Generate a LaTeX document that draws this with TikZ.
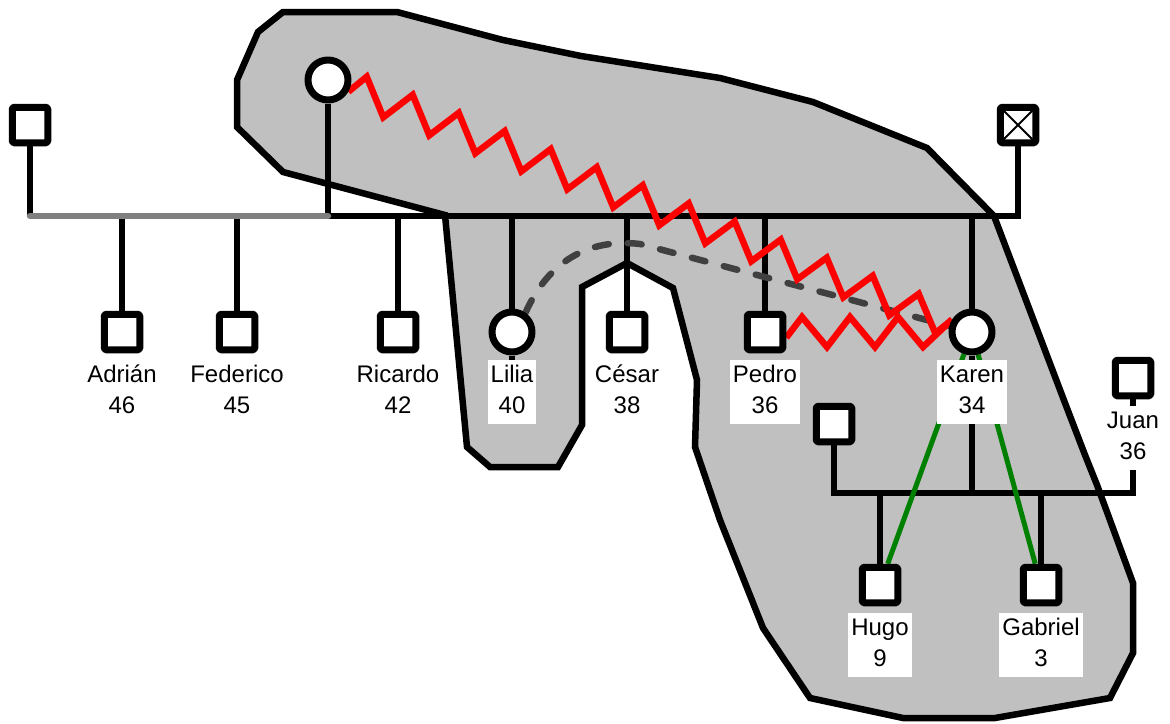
\documentclass[tikz,border=0pt]{standalone}
\usepackage{fontspec}
\setmainfont{Liberation Sans}
\definecolor{regionfill}{RGB}{192,192,192}
\definecolor{dgray}{RGB}{64,64,64}
\definecolor{mgray}{RGB}{128,128,128}
\definecolor{bondgreen}{RGB}{0,128,0}
\pgfdeclarelayer{bg}
\pgfdeclarelayer{lines}
\pgfsetlayers{bg,lines,main}
\begin{document}
\begin{tikzpicture}[x=1pt,y=-1pt,line join=round,
  conn/.style={line width=6.5pt,black},
  pastconn/.style={line width=6.5pt,mgray,line cap=round},
  sqnode/.style={draw,line width=7pt,fill=white,minimum size=35.5pt,inner sep=0pt,rounded corners=1.5pt},
  circnode/.style={circle,draw,line width=7pt,fill=white,minimum size=40pt,inner sep=0pt},
  deadnode/.style={sqnode},
  deadcross/.style={line width=2pt,black},
  lab/.style={fill=white,inner xsep=3pt,inner ysep=1pt,align=center,anchor=north,
    font=\fontsize{24pt}{31pt}\selectfont},
  hostile/.style={red,line width=6.5pt,line join=miter},
  distant/.style={dgray,line width=6.5pt,line cap=round,dash pattern=on 14pt off 19pt},
  closebond/.style={bondgreen,line width=5pt},
  regionstyle/.style={draw=black,line width=6.5pt,fill=regionfill}]

\useasboundingbox (0,0) rectangle (1170,723);

% nodes
\node[sqnode] (sq1) at (30,125) {};
\node[circnode] (topc) at (328,80) {};
\node[deadnode] (xsq) at (1018,125) {};
\draw[deadcross] ([xshift=-14.3pt,yshift=14.3pt]xsq.center) -- ([xshift=14.3pt,yshift=-14.3pt]xsq.center)
  ([xshift=14.3pt,yshift=14.3pt]xsq.center) -- ([xshift=-14.3pt,yshift=-14.3pt]xsq.center);
\node[sqnode] (adrian) at (122,332) {};
\node[sqnode] (federico) at (237,332) {};
\node[sqnode] (ricardo) at (398,332) {};
\node[circnode] (lilia) at (512,332) {};
\node[sqnode] (cesar) at (627,332) {};
\node[sqnode] (pedro) at (765,332) {};
\node[circnode] (karen) at (972,332) {};
\node[sqnode] (hf) at (834,424) {};
\node[sqnode] (juan) at (1133,378) {};
\node[sqnode] (hugo) at (880,585) {};
\node[sqnode] (gabriel) at (1041,585) {};

% labels
\node[lab] (adrianl) at ([yshift=-28pt]adrian.center) {Adrián\strut\\46\strut};
\node[lab] (federicol) at ([yshift=-28pt]federico.center) {Federico\strut\\45\strut};
\node[lab] (ricardol) at ([yshift=-28pt]ricardo.center) {Ricardo\strut\\42\strut};
\node[lab] (lilial) at ([yshift=-28pt]lilia.center) {Lilia\strut\\40\strut};
\node[lab] (cesarl) at ([yshift=-28pt]cesar.center) {César\strut\\38\strut};
\node[lab] (pedrol) at ([yshift=-28pt]pedro.center) {Pedro\strut\\36\strut};
\node[lab] (karenl) at ([yshift=-28pt]karen.center) {Karen\strut\\34\strut};
\node[lab] (juanl) at ([yshift=-28pt]juan.center) {Juan\strut\\36\strut};
\node[lab] (hugol) at ([yshift=-28pt]hugo.center) {Hugo\strut\\9\strut};
\node[lab] (gabriell) at ([yshift=-28pt]gabriel.center) {Gabriel\strut\\3\strut};

% region
\begin{pgfonlayer}{bg}
\fill[white] (0,0) rectangle (1170,723);
\draw[regionstyle] (283,12) -- (397,12) -- (503,40) -- (581,56) -- (720,78) -- (813,102)
  -- (927,148) -- (994,216) -- (1065,403) -- (1085,455) -- (1097,485) -- (1107,512)
  -- (1133,583) -- (1133,653) -- (1110,698) -- (995,718) -- (903,718) -- (810,698)
  -- (763,628) -- (720,520) -- (695,447) -- (697,380) -- (673,288) -- (627,263)
  -- (582,287) -- (582,425) -- (558,467) -- (490,467) -- (467,447) -- (445,215)
  -- (283,172) -- (237,127) -- (237,80) -- (258,32) -- cycle;
\end{pgfonlayer}

% connectors
\begin{pgfonlayer}{lines}
\coordinate (aL) at (30,216);
\coordinate (aM) at (328,216);
\coordinate (aR) at (1018,216);
\coordinate (bL) at (834,493);
\coordinate (bR) at (1133,493);

\draw[conn] (sq1) -- (aL);
\draw[conn] (adrian) -- (adrian |- aL);
\draw[conn] (federico) -- (federico |- aL);
\draw[conn] (topc) -- (aM) -- (aR) -- (xsq);
\foreach \n in {ricardo,lilia,cesar,pedro,karen}
  \draw[conn] (\n) -- (\n |- aM);
\draw[conn] (lilia) -- (lilial);
\draw[pastconn] (aL) -- (aM);

\draw[conn] (hf) -- (bL) -- (bR) -- (juan);
\draw[conn] (karen) -- (karen |- bL);
\draw[conn] (hugo) -- (hugo |- bL);
\draw[conn] (gabriel) -- (gabriel |- bL);

\draw[distant] (lilia.55) .. controls (548,262) and (588,238) .. (640,244) -- (karen.165);

\draw[hostile] (topc.-30)
  \foreach \k in {0,...,12} { -- ({366.7+46*\k},{76.7+18.1*\k}) -- ({383.3+46*\k},{117.3+18*\k}) }
  -- (karen.148);
\draw[hostile] (pedro.-15) -- (802,317) -- (827,347) -- (850,317) -- (875,347)
  -- (898,317) -- (923,347) -- (karen.148);

\draw[closebond] (karen) -- (hugo);
\draw[closebond] (karen) -- (gabriel);
\end{pgfonlayer}
\end{tikzpicture}
\end{document}
